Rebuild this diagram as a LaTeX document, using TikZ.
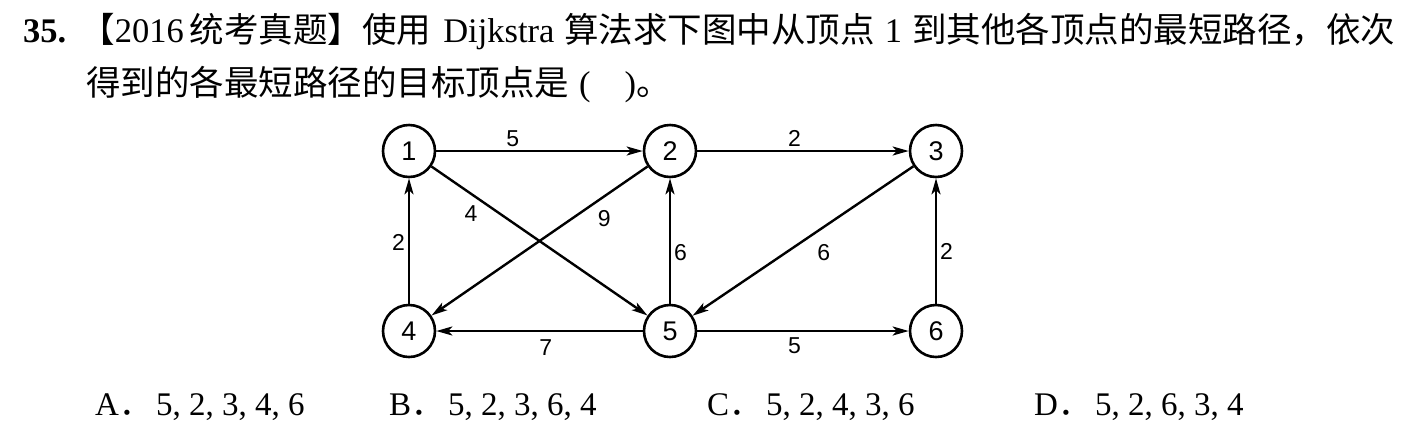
\documentclass[tikz,border=0pt]{standalone}
\usepackage{fontspec}
\setmainfont{Liberation Serif}
\newfontfamily\cjk{Noto Sans CJK SC}
\newfontfamily\gsans{Liberation Sans}
\usetikzlibrary{arrows.meta}
\newcommand\zh[1]{{\cjk #1}}
\begin{document}
\begin{tikzpicture}[x=1pt,y=-1pt,
  vert/.style={draw,circle,line width=2.6pt,minimum size=52pt,inner sep=0pt,font=\gsans\fontsize{27}{27}\selectfont},
  arc/.style={line width=2.4pt,-{Stealth[length=16pt,width=9pt,inset=4pt]}},
  wt/.style={font=\gsans\fontsize{23}{23}\selectfont,inner sep=2pt},
  txt/.style={inner sep=0pt,anchor=base west,font=\fontsize{34.5}{36}\selectfont},
  opt/.style={inner sep=0pt,anchor=base west,font=\fontsize{33}{36}\selectfont}]
\useasboundingbox (0,0) rectangle (1404,432);
\fill[white] (0,0) rectangle (1404,432);
\node[txt] (t1) at (23,42) {\textbf{35.}\hspace{14pt}\zh{【}2016\hspace{6pt}\zh{统考真题】使用}\hspace{12pt}Dijkstra\hspace{10pt}\zh{算法求下图中从顶点}\hspace{10pt}1\hspace{10pt}\zh{到其他各顶点的最短路径，依次}};
\node[txt] (t2) at (86,95) {\zh{得到的各最短路径的目标顶点是}\hspace{10pt}(\hspace{34pt})\zh{。}};
\node[vert] (n1) at (409,151) {1};
\node[vert] (n2) at (670,151) {2};
\node[vert] (n3) at (936,151) {3};
\node[vert] (n4) at (409,331) {4};
\node[vert] (n5) at (670,331) {5};
\node[vert] (n6) at (936,331) {6};
\draw[arc] (n1) -- node[wt,pos=0.37,above=1pt] (w12) {5} (n2);
\draw[arc] (n2) -- node[wt,pos=0.46,above=1pt] (w23) {2} (n3);
\draw[arc] (n5) -- node[wt,pos=0.47,below=5pt] (w54) {7} (n4);
\draw[arc] (n5) -- node[wt,pos=0.46,below=3pt] (w56) {5} (n6);
\draw[arc] (n4) -- node[wt,pos=0.49,left=1pt] (w41) {2} (n1);
\draw[arc] (n5) -- node[wt,pos=0.41,right=1pt] (w52) {6} (n2);
\draw[arc] (n6) -- node[wt,pos=0.415,right=1pt] (w63) {2} (n3);
\draw[arc] (n1) -- node[wt,pos=0.225,shift={(-9,14)}] (w15) {4} (n5);
\draw[arc] (n2) -- node[wt,pos=0.246,shift={(10,15)}] (w24) {9} (n4);
\draw[arc] (n3) -- node[wt,pos=0.46,shift={(12,18)}] (w35) {6} (n5);
\node[opt] (oa) at (95,415) {A\zh{．}\hspace{4pt}5, 2, 3, 4, 6};
\node[opt] (ob) at (389,415) {B\zh{．}\hspace{4pt}5, 2, 3, 6, 4};
\node[opt] (oc) at (707,415) {C\zh{．}\hspace{4pt}5, 2, 4, 3, 6};
\node[opt] (od) at (1034,415) {D\zh{．}\hspace{4pt}5, 2, 6, 3, 4};
\end{tikzpicture}
\end{document}
